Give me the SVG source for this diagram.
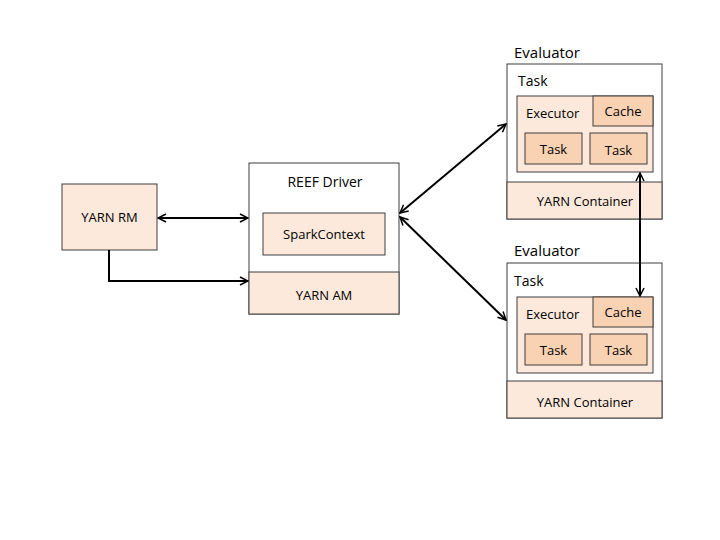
<svg xmlns="http://www.w3.org/2000/svg" width="720" height="540" viewBox="0 0 720 540">
<defs>
<marker id="ah" viewBox="0 0 10 10" refX="9" refY="5" markerWidth="10" markerHeight="10" markerUnits="userSpaceOnUse" orient="auto-start-reverse">
<path d="M1,1 L9,5 L1,9" fill="none" stroke="#000" stroke-width="1.5"/>
</marker>
<style>
.box{stroke:#3f3f3f;stroke-width:1}
.white{fill:#ffffff}
.lt{fill:#fde9db}
.dk{fill:#f9d1b3}
text{font-family:"Open Sans","Liberation Sans",sans-serif;font-size:13px;fill:#000}
.c{text-anchor:middle}
.big{font-size:15px}
.tl{font-size:14px}
.conn{fill:none;stroke:#000;stroke-width:2}
</style>
</defs>
<rect width="720" height="540" fill="#fff"/>
<g id="yarn-rm">
<rect class="box lt" x="62" y="184" width="95" height="66"/>
<text class="c" x="109.5" y="222">YARN RM</text>
</g>
<g id="reef-driver">
<rect class="box white" x="249" y="163" width="150" height="151"/>
<rect class="box lt" x="249" y="272" width="150" height="42"/>
<text class="c" x="325" y="187" style="font-size:14px">REEF Driver</text>
<text class="c" x="324" y="300">YARN AM</text>
</g>
<g id="spark-context">
<rect class="box lt" x="263" y="213" width="122" height="42"/>
<text class="c" x="324" y="239">SparkContext</text>
</g>
<g id="evaluator-1">
<text class="big" x="514" y="58">Evaluator</text>
<rect class="box white" x="507" y="64" width="155" height="155"/>
<rect class="box lt" x="507" y="182" width="155" height="37"/>
<text class="c" x="585" y="206">YARN Container</text>
<text class="tl" x="518" y="86">Task</text>
<rect class="box lt" x="517" y="96" width="136" height="76"/>
<text x="526" y="118">Executor</text>
<rect class="box dk" x="593" y="96" width="60" height="30"/>
<text class="c" x="623" y="116">Cache</text>
<rect class="box dk" x="525" y="133" width="57" height="31"/>
<text class="c" x="553.5" y="154">Task</text>
<rect class="box dk" x="590" y="133" width="57" height="31"/>
<text class="c" x="618.5" y="155">Task</text>
</g>
<g id="evaluator-2">
<text class="big" x="514" y="256">Evaluator</text>
<rect class="box white" x="507" y="263" width="155" height="155"/>
<rect class="box lt" x="507" y="381" width="155" height="37"/>
<text class="c" x="585" y="407">YARN Container</text>
<text class="tl" x="514" y="286">Task</text>
<rect class="box lt" x="517" y="297" width="136" height="76"/>
<text x="526" y="319">Executor</text>
<rect class="box dk" x="593" y="297" width="60" height="30"/>
<text class="c" x="623" y="317">Cache</text>
<rect class="box dk" x="525" y="334" width="57" height="31"/>
<text class="c" x="553.5" y="355">Task</text>
<rect class="box dk" x="590" y="334" width="57" height="31"/>
<text class="c" x="618.5" y="355">Task</text>
</g>
<g id="connectors">
<line class="conn" x1="158" y1="218" x2="248" y2="218" marker-start="url(#ah)" marker-end="url(#ah)"/>
<polyline class="conn" points="109,250 109,281 248,281" marker-end="url(#ah)"/>
<line class="conn" x1="400" y1="213" x2="506" y2="124" marker-start="url(#ah)" marker-end="url(#ah)"/>
<line class="conn" x1="400" y1="217" x2="506" y2="320" marker-start="url(#ah)" marker-end="url(#ah)"/>
<line class="conn" x1="640" y1="173" x2="640" y2="296" marker-start="url(#ah)" marker-end="url(#ah)"/>
</g>
</svg>
